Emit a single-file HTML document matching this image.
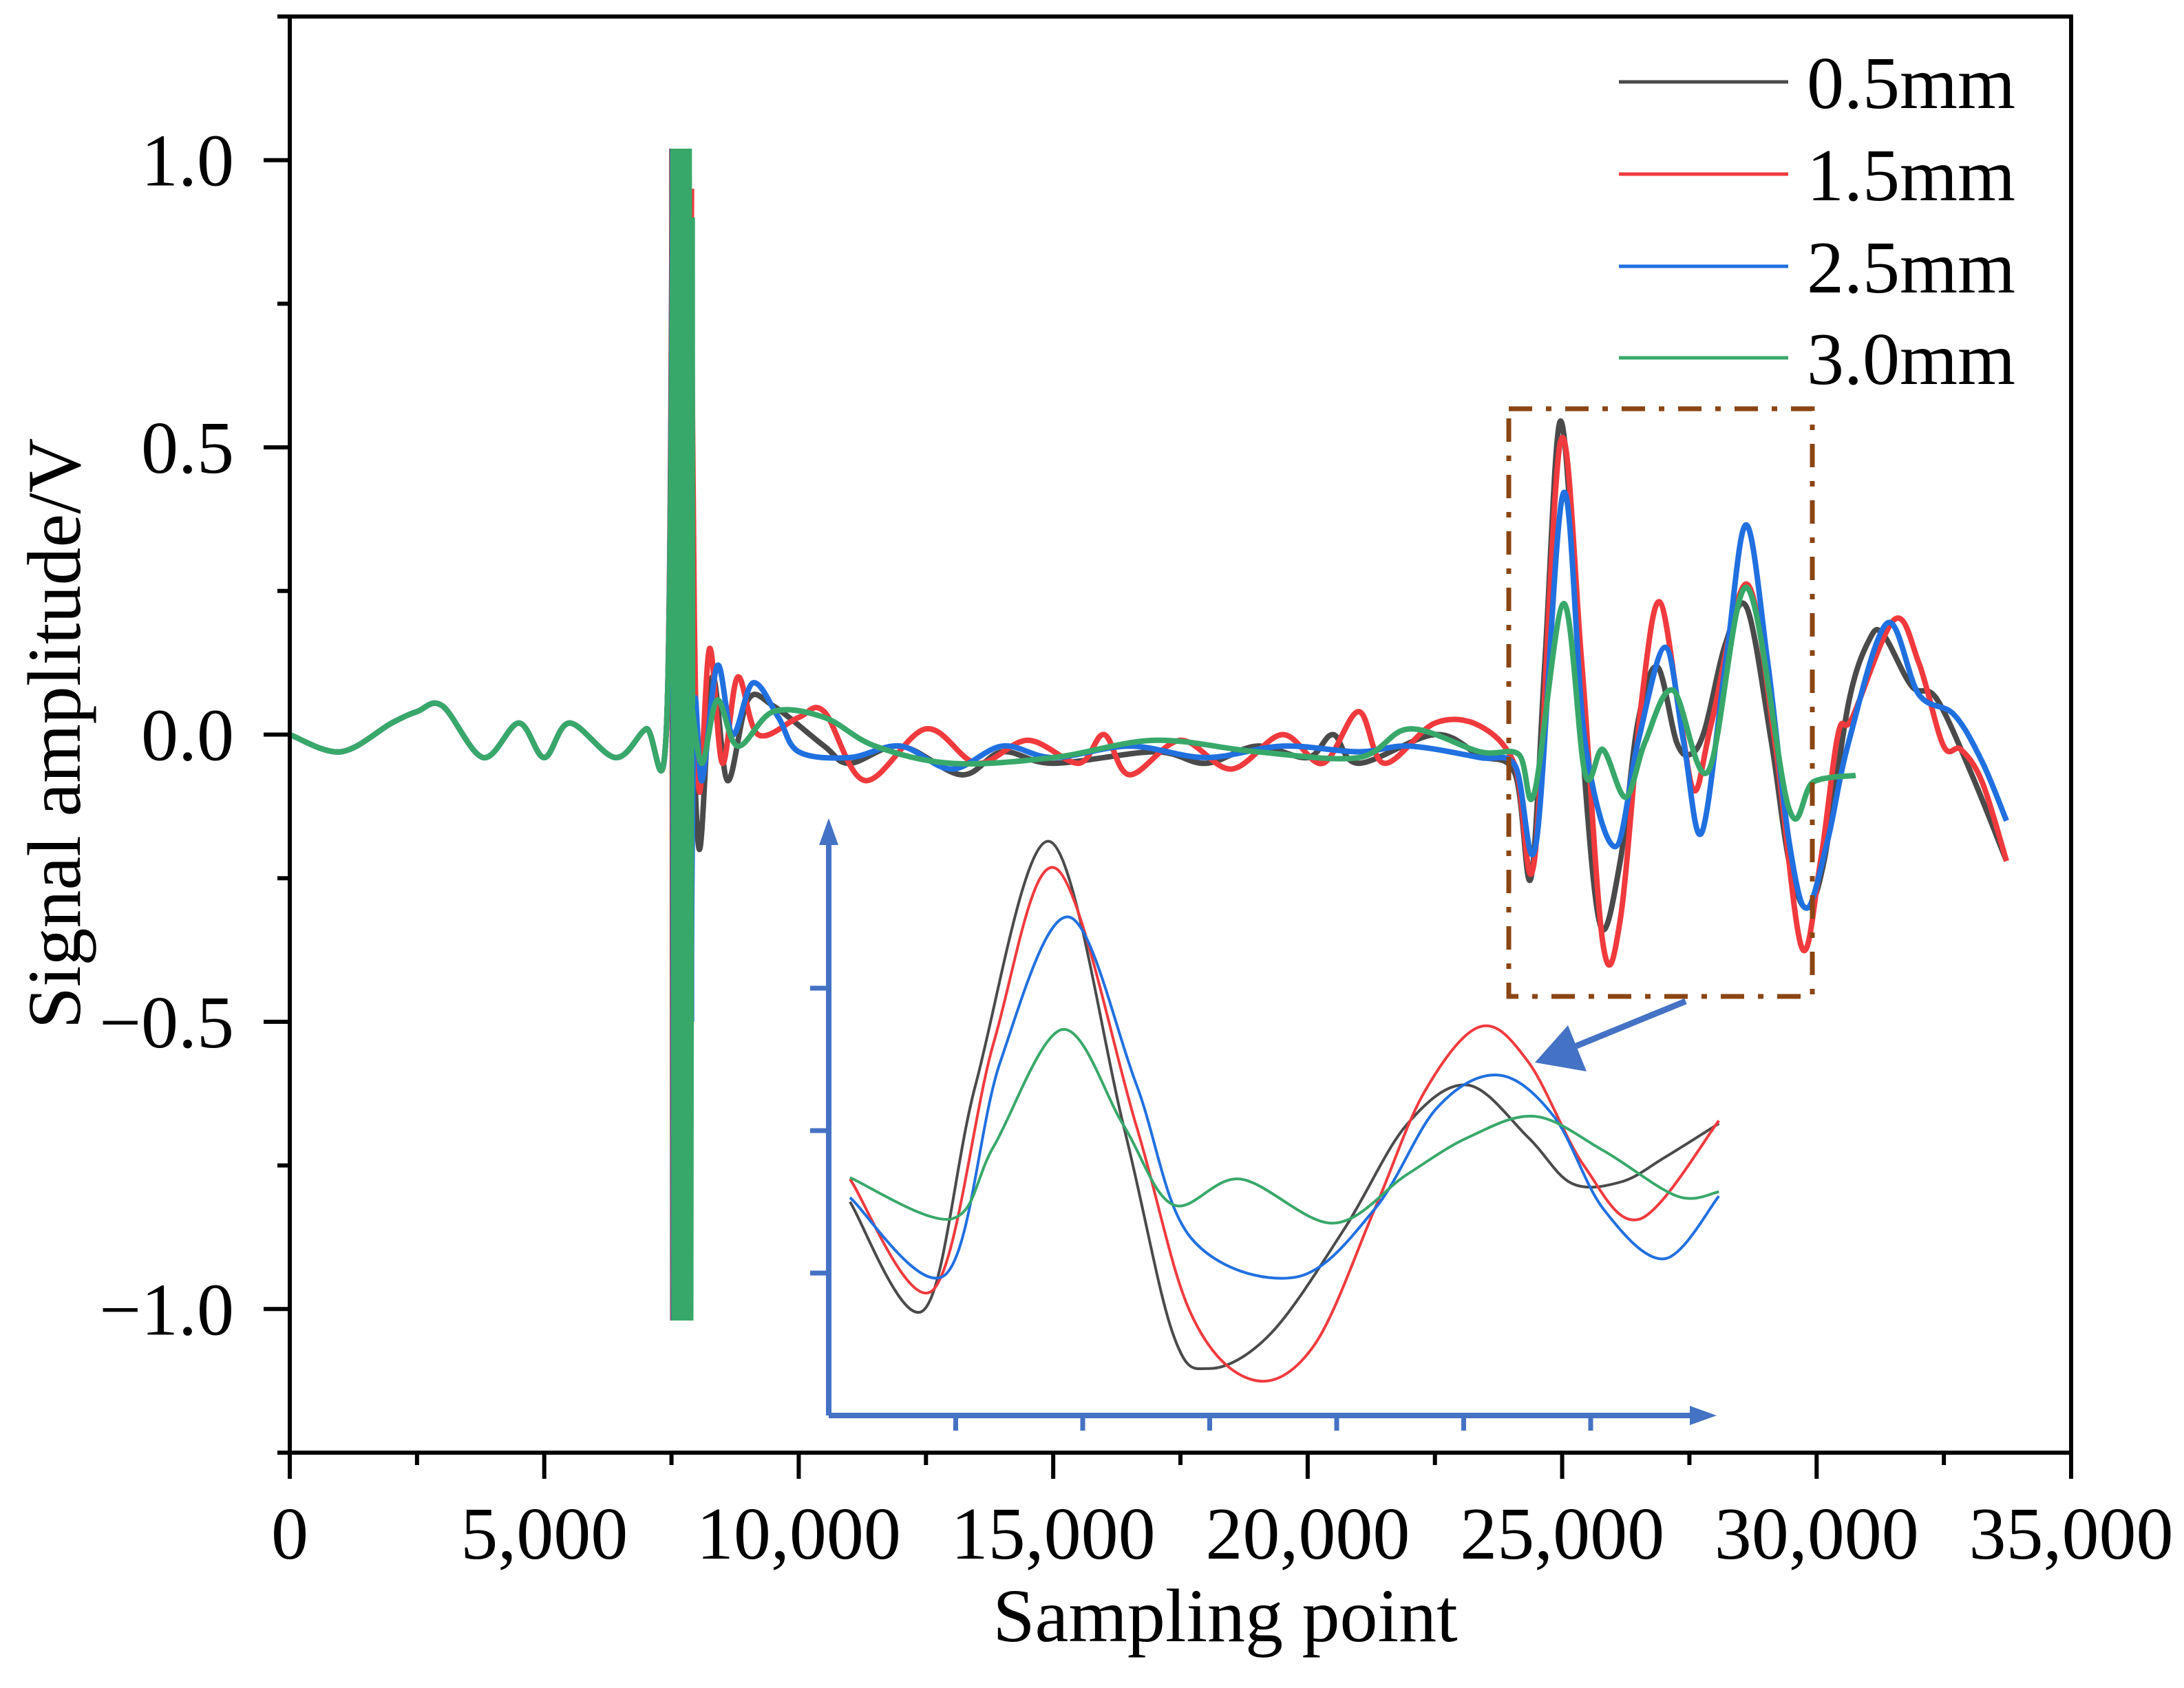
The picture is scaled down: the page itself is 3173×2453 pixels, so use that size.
<!DOCTYPE html>
<html><head><meta charset="utf-8"><style>
html,body{margin:0;padding:0;background:#fff;}
svg{display:block;}
text{font-family:"Liberation Serif",serif;fill:#000;}
</style></head><body>
<svg id="chart" xmlns="http://www.w3.org/2000/svg" width="3173" height="2453" viewBox="0 0 3173 2453"></svg>
<script>
// ---- main chart data (x = sampling point, y = volts) ----
const xTicks = [0,5000,10000,15000,20000,25000,30000,35000];
const xTickLabels = ["0","5,000","10,000","15,000","20,000","25,000","30,000","35,000"];
const yTicks = [1.0,0.5,0.0,-0.5,-1.0];
const yTickLabels = ["1.0","0.5","0.0","\u22120.5","\u22121.0"];
const seriesNames = ["0.5mm","1.5mm","2.5mm","3.0mm"];

const baseX = [0,1000,2000,2500,3000,3800,4500,5000,5500,6400,7000,7400];
const baseY = [0,-0.03,0.02,0.04,0.05,-0.04,0.02,-0.04,0.02,-0.04,0.01,0.01];
const spikeX = [7520,7540,7570,7600,7630,7660,7690,7720,7750,7780,7810,7840,7870];
const spikeY = [1.02,-1.02,1.02,-1.02,1.02,-1.02,1.02,-1.02,1.02,-1.02,1.02,-1.02,0.9];

const blackX = [7900,8050,8300,8600,9000,9500,10500,11000,12000,13200,14000,15000,17000,18000,19000,20000,20500,21000,22500,23384,24074,24385,24660,24954,25248,25450,25766,26142,26489,26869,27248,27524,27800,28213,28628,29111,29456,29800,30146,30629,31046,31318,31870,32352,33041,33730];
const blackY = [0.1,-0.2,0.1,-0.08,0.06,0.05,-0.02,-0.05,-0.02,-0.07,-0.03,-0.05,-0.03,-0.05,-0.02,-0.04,0.0,-0.05,0.0,-0.037,-0.068,-0.25,0.125,0.544,0.262,-0.082,-0.336,-0.22,0.022,0.118,-0.013,-0.034,0.008,0.159,0.221,-0.013,-0.22,-0.302,-0.22,0.056,0.167,0.173,0.084,0.063,-0.068,-0.22];
const redX = [7880,7950,8050,8250,8500,8800,9200,10000,10500,11300,12500,13500,14500,15500,16000,16500,17500,18500,19500,20300,21000,21500,22500,23384,24074,24452,24967,25384,25800,26142,26557,26915,27330,27607,27938,28628,29180,29704,30077,30422,30698,31525,32007,32490,32835,33250,33730];
const redY = [0.95,0.2,-0.1,0.15,-0.05,0.1,0.0,0.03,0.04,-0.08,0.01,-0.05,-0.01,-0.05,0.0,-0.07,-0.01,-0.06,0.0,-0.05,0.04,-0.05,0.02,0.015,-0.054,-0.22,0.51,0.125,-0.363,-0.322,0.056,0.231,0.022,-0.098,0.022,0.262,-0.013,-0.37,-0.22,0.001,0.029,0.2,0.125,-0.019,-0.026,-0.082,-0.22];
const blueX = [7880,7950,8100,8400,8700,9100,9600,10000,11000,12000,13000,14000,15000,16500,18000,19500,21000,22000,23384,24074,24487,25022,25450,26039,26489,27021,27387,27740,28213,28614,29040,29456,29800,30214,30629,31387,32007,32697,33250,33730];
const blueY = [-0.5,0.05,-0.08,0.12,0.0,0.09,0.03,-0.03,-0.04,-0.02,-0.06,-0.02,-0.04,-0.02,-0.04,-0.02,-0.03,-0.02,-0.04,-0.054,-0.19,0.42,-0.013,-0.195,-0.013,0.152,-0.013,-0.171,0.125,0.365,0.125,-0.185,-0.302,-0.185,-0.013,0.194,0.07,0.035,-0.047,-0.15];
const greenX = [7900,8100,8400,8800,9500,10500,11500,13000,15000,17000,19000,21000,22000,23384,24143,24452,25026,25450,25800,26247,26628,27179,27869,28628,29456,29939,30767];
const greenY = [0.05,-0.05,0.06,-0.02,0.04,0.03,-0.02,-0.05,-0.04,-0.01,-0.03,-0.04,0.01,-0.03,-0.034,-0.102,0.228,-0.068,-0.026,-0.109,-0.013,0.077,-0.064,0.256,-0.129,-0.082,-0.071];

// ---- inset data (inset units) ----
const insBlackU = [0.167,0.748,1.159,1.74,2.32,2.71,3.0,3.48,4.06,4.55,5.03,5.51,5.85,6.24,6.58,7.01];
const insBlackW = [1.50,0.74,2.33,4.03,2.04,0.575,0.33,0.575,1.31,2.04,2.32,1.95,1.63,1.64,1.81,2.05];
const insRedU = [0.167,0.82,1.30,1.79,2.42,2.85,3.34,3.82,4.30,4.69,5.13,5.51,5.95,6.39,7.01];
const insRedW = [1.66,0.88,2.62,3.84,2.04,0.72,0.25,0.49,1.45,2.27,2.73,2.48,1.75,1.38,2.07];
const insBlueU = [0.167,0.92,1.35,1.89,2.42,2.85,3.67,4.30,4.79,5.27,5.71,6.10,6.58,7.01];
const insBlueW = [1.53,0.99,2.48,3.5,2.33,1.25,0.97,1.45,2.16,2.39,2.10,1.45,1.10,1.54];
const insGreenU = [0.167,0.965,1.30,1.84,2.32,2.71,3.24,3.97,4.55,5.03,5.56,6.10,6.68,7.01];
const insGreenW = [1.67,1.38,1.89,2.71,2.04,1.48,1.66,1.35,1.69,1.95,2.10,1.86,1.54,1.57];
const insTicksU = [1,2,3,4,5,6];
const insTicksW = [1,2,3];

const NS="http://www.w3.org/2000/svg";
const svg=document.getElementById('chart');
const L=421,R=3009,T=24,B=2111;
const xMin=0,xMax=35000,yMin=-1.25,yMax=1.25;
function sx(v){return L+(v-xMin)/(xMax-xMin)*(R-L);}
function sy(v){return B-(v-yMin)/(yMax-yMin)*(B-T);}
const iX0=1204,iY0=2057,iUx=184.5,iUy=207;
function ix(u){return iX0+u*iUx;}
function iy(w){return iY0-w*iUy;}
function el(tag,attrs,parent){const e=document.createElementNS(NS,tag);for(const k in attrs)e.setAttribute(k,attrs[k]);(parent||svg).appendChild(e);return e;}
function smoothPath(pts){
  let d='M'+pts[0][0].toFixed(1)+','+pts[0][1].toFixed(1);
  for(let i=0;i<pts.length-1;i++){
    const p0=pts[Math.max(0,i-1)],p1=pts[i],p2=pts[i+1],p3=pts[Math.min(pts.length-1,i+2)];
    const c1=[p1[0]+(p2[0]-p0[0])/6,p1[1]+(p2[1]-p0[1])/6];
    const c2=[p2[0]-(p3[0]-p1[0])/6,p2[1]-(p3[1]-p1[1])/6];
    d+=' C'+c1[0].toFixed(1)+','+c1[1].toFixed(1)+' '+c2[0].toFixed(1)+','+c2[1].toFixed(1)+' '+p2[0].toFixed(1)+','+p2[1].toFixed(1);
  }
  return d;
}
function linePath(pts){return pts.map((p,i)=>(i?'L':'M')+p[0].toFixed(1)+','+p[1].toFixed(1)).join(' ');}

const defs=el('defs',{});
const clip=el('clipPath',{id:'plotclip'},defs);
el('rect',{x:L,y:T,width:R-L,height:B-T},clip);

const colors=["#4a4a4a","#f03a3d","#2070e0","#38a86a"];
const dataX=[blackX,redX,blueX,greenX];
const dataY=[blackY,redY,blueY,greenY];
const gSeries=el('g',{'clip-path':'url(#plotclip)'});


for(let s=0;s<4;s++){
  const g=el('g',{},gSeries);
  
  
  const bp=baseX.map((x,i)=>[sx(x),sy(baseY[i])]);
  const sp=spikeX.map((x,i)=>[sx(x+s*8),sy(spikeY[i])]);
  const mp=dataX[s].map((x,i)=>[sx(x),sy(dataY[s][i])]);
  const p1=el('path',{d:smoothPath(bp.concat([sp[0]])),fill:'none',stroke:colors[s],'stroke-width':8,'stroke-linejoin':'round'},g);
  
  
  const p2=el('path',{d:linePath(sp.concat([mp[0]])),fill:'none',stroke:colors[s],'stroke-width':10},g);
  
  
  const p3=el('path',{d:smoothPath(mp),fill:'none',stroke:colors[s],'stroke-width':8,'stroke-linejoin':'round'},g);
  
  
}

const frame=el('rect',{x:L,y:T,width:R-L,height:B-T,fill:'none',stroke:'#000','stroke-width':6});



for(let v=0;v<=35000;v+=2500){
  const major=v%5000===0;
  const t=el('line',{x1:sx(v),x2:sx(v),y1:B,y2:B+(major?38:18),stroke:'#000','stroke-width':6});
  
  
}
xTicks.forEach((v,i)=>{
  const t=el('text',{x:sx(v),y:2265,'text-anchor':'middle','font-size':108});
  t.textContent=xTickLabels[i];
  
  
});
for(let v=-1.25;v<=1.25001;v+=0.25){
  const major=Math.abs(v*2-Math.round(v*2))<1e-6;
  const t=el('line',{x1:L,x2:L-(major?38:18),y1:sy(v),y2:sy(v),stroke:'#000','stroke-width':6});
  
  
}
yTicks.forEach((v,i)=>{
  const t=el('text',{x:340,y:sy(v)+37,'text-anchor':'end','font-size':108});
  t.textContent=yTickLabels[i];
  
  
});
const xt=el('text',{x:1780,y:2385,'text-anchor':'middle','font-size':110});
xt.textContent='Sampling point';


const yt=el('text',{x:0,y:0,'text-anchor':'middle','font-size':110,transform:'translate(116,1066) rotate(-90)'});
yt.textContent='Signal amplitude/V';



const legY=[119,253,387,520];
seriesNames.forEach((n,i)=>{
  const g=el('g',{});
  
  
  el('line',{x1:2352,x2:2598,y1:legY[i],y2:legY[i],stroke:colors[i],'stroke-width':5},g);
  const t=el('text',{x:2625,y:legY[i]+38,'font-size':108},g);
  t.textContent=n;
});

const box=el('rect',{x:2192,y:594,width:441,height:854,fill:'none',stroke:'#8b4513','stroke-width':7,'stroke-dasharray':'34 20 8 20'});



const ag=el('g',{});


el('line',{x1:2449,y1:1455,x2:2290,y2:1520,stroke:'#4472c4','stroke-width':9},ag);
el('polygon',{points:'2230,1544 2278,1490 2305,1557',fill:'#4472c4'},ag);

const ig=el('g',{});


const insU=[insBlackU,insRedU,insBlueU,insGreenU];
const insW=[insBlackW,insRedW,insBlueW,insGreenW];
for(let s=0;s<4;s++){
  const p=el('path',{d:smoothPath(insU[s].map((u,i)=>[ix(u),iy(insW[s][i])])),fill:'none',stroke:colors[s],'stroke-width':4},ig);
  
  
}
const iax=el('path',{d:`M${iX0},${iY0} L${iX0},1215 M${iX0},${iY0} L2465,${iY0}`,fill:'none',stroke:'#4472c4','stroke-width':8},ig);


el('polygon',{points:`${iX0},1189 ${iX0-14},1228 ${iX0+14},1228`,fill:'#4472c4'},ig);
el('polygon',{points:`2494,${iY0} 2455,${iY0-14} 2455,${iY0+14}`,fill:'#4472c4'},ig);
insTicksW.forEach(w=>{
  const t=el('line',{x1:iX0-27,x2:iX0,y1:iy(w),y2:iy(w),stroke:'#4472c4','stroke-width':7},ig);
  
  
});
insTicksU.forEach(u=>{
  const t=el('line',{x1:ix(u),x2:ix(u),y1:iY0,y2:iY0+22,stroke:'#4472c4','stroke-width':7},ig);
  
  
});
</script>
</body></html>
